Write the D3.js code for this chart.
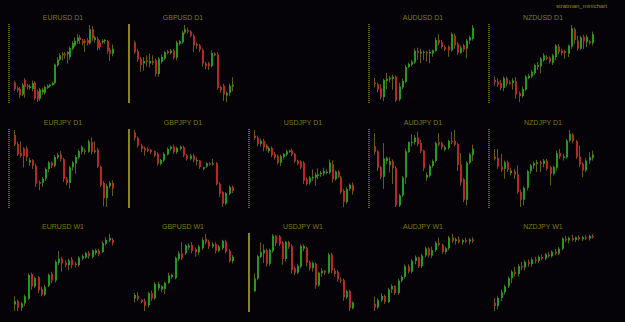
<!DOCTYPE html>
<html>
<head>
<meta charset="utf-8">
<script src="https://cdn.jsdelivr.net/npm/d3@7"></script>
<style>
  html, body { margin: 0; padding: 0; background: #050307; }
  svg { display: block; }
</style>
</head>
<body>
<script>
// candles are [open, high, low, close]
const eurusdD1 = [[82,87,55,62],[65,70,52,58],[62,68,35,42],[45,80,40,75],[90,95,35,68],[72,78,60,68],[65,76,60,70],[62,88,55,80],[82,86,28,33],[55,60,22,30],[32,65,25,60],[52,66,45,60],[50,72,45,68],[65,76,62,72],[70,78,68,75],[74,84,72,80],[80,140,76,137],[135,160,130,152],[152,172,148,165],[170,175,150,165],[170,175,155,165],[168,178,140,175],[160,192,152,187],[185,208,180,202],[195,220,190,210],[208,230,200,220],[220,228,200,212],[210,215,195,202],[210,215,175,205],[212,218,195,202],[202,258,198,245],[245,255,210,218],[212,225,205,220],[215,222,180,188],[205,212,182,190],[205,214,200,210],[208,215,200,212],[210,212,170,178],[182,188,148,170],[170,198,162,185]];
const gbpusdD1 = [[205,210,170,175],[178,185,145,152],[155,160,115,135],[140,160,118,148],[150,165,130,145],[140,170,128,148],[148,165,135,142],[150,155,100,108],[108,160,100,155],[145,168,140,160],[155,178,150,175],[178,182,168,172],[172,185,168,180],[180,185,152,158],[158,210,150,205],[200,212,195,208],[205,240,200,235],[235,258,230,245],[242,250,232,238],[238,242,220,225],[225,230,175,195],[200,205,185,195],[195,200,175,182],[182,186,130,140],[140,145,122,132],[140,145,120,132],[132,180,128,172],[170,175,162,165],[168,175,60,65],[68,72,50,58],[72,78,25,45],[42,55,22,50],[50,78,40,72],[70,98,55,75]];
const audusdD1 = [[80,95,65,75],[75,80,50,58],[62,75,28,35],[35,92,22,88],[85,110,60,92],[90,100,80,94],[92,105,58,98],[98,102,20,25],[28,80,22,68],[65,92,60,85],[82,135,78,128],[128,142,125,138],[135,150,130,145],[142,185,138,178],[178,188,150,172],[170,185,140,175],[172,180,150,175],[175,178,145,170],[170,182,140,175],[170,182,160,180],[178,220,175,212],[212,230,195,202],[205,212,185,190],[190,195,178,182],[190,195,160,180],[180,235,175,230],[225,232,185,195],[200,205,165,172],[172,195,168,188],[195,200,175,182],[185,215,155,210],[210,225,200,220],[215,258,210,250]];
const nzdusdD1 = [[90,100,72,82],[85,95,68,75],[80,90,58,65],[65,100,55,95],[95,100,70,78],[82,88,75,78],[80,95,60,88],[85,98,32,45],[50,55,22,40],[40,70,35,62],[60,105,55,100],[95,108,92,102],[100,120,95,115],[110,140,105,135],[130,145,120,135],[132,160,110,155],[150,172,145,165],[160,165,150,155],[158,162,140,145],[142,170,135,165],[160,200,150,195],[192,200,168,175],[180,185,165,172],[178,182,155,172],[170,198,160,195],[192,258,185,248],[245,250,200,212],[210,225,180,185],[185,225,182,220],[222,228,185,208],[205,228,190,222],[208,212,198,202],[202,238,195,230]];
const eurjpyD1 = [[260,275,225,230],[232,238,195,200],[205,240,190,195],[218,222,160,195],[218,225,180,192],[175,190,165,182],[182,185,155,165],[165,172,100,110],[115,120,90,110],[112,130,100,125],[125,160,118,155],[155,180,145,175],[175,178,158,165],[165,198,160,192],[190,205,185,198],[200,210,178,185],[185,190,115,125],[125,130,105,112],[112,165,95,160],[160,180,150,175],[172,198,140,192],[190,215,185,210],[208,228,200,222],[212,218,200,208],[208,245,205,240],[238,252,200,208],[208,240,202,212],[215,220,158,162],[162,165,100,105],[112,118,40,65],[65,108,38,102],[102,118,95,112],[112,120,72,95]];
const gbpjpyD1 = [[265,272,240,248],[248,252,220,225],[225,230,205,215],[218,222,195,210],[215,220,205,210],[212,215,200,205],[208,210,190,195],[200,205,165,170],[170,185,165,182],[180,205,175,200],[198,220,195,215],[215,225,210,222],[222,228,200,205],[205,222,200,218],[215,225,210,222],[220,225,190,195],[195,200,180,185],[185,200,180,195],[195,200,175,180],[178,190,165,182],[180,182,155,160],[155,162,150,160],[162,175,158,172],[172,175,165,168],[168,185,165,172],[172,175,105,108],[110,115,70,80],[85,88,40,50],[50,85,45,82],[80,105,75,100],[100,105,82,88]];
const usdjpyD1 = [[258,275,245,250],[252,258,225,232],[232,248,225,242],[242,248,210,222],[228,232,212,218],[210,225,205,220],[220,225,192,198],[202,208,185,190],[195,200,170,175],[175,200,165,195],[192,205,185,202],[200,215,195,210],[208,215,205,212],[212,218,195,200],[202,205,175,180],[182,185,168,172],[178,182,155,160],[175,180,110,120],[125,130,105,110],[115,135,108,130],[128,155,120,132],[130,145,105,138],[135,158,125,140],[140,150,132,145],[142,160,135,150],[144,155,140,148],[145,185,140,175],[170,182,115,125],[125,152,120,148],[148,152,128,132],[130,135,80,85],[90,95,40,55],[55,100,50,95],[95,112,90,108],[108,115,78,88]];
const audjpyD1 = [[225,265,200,208],[210,215,150,160],[162,165,125,132],[132,235,95,188],[180,195,170,190],[168,192,145,180],[180,185,110,158],[158,165,40,45],[45,80,40,75],[75,135,70,130],[130,218,110,210],[208,240,205,238],[235,262,225,238],[238,260,230,252],[252,270,225,232],[235,245,205,210],[212,215,150,158],[130,145,120,138],[135,170,130,165],[165,185,160,180],[180,240,175,235],[238,265,225,230],[235,240,215,222],[215,228,210,222],[220,245,215,242],[242,270,232,238],[242,275,225,230],[232,235,150,168],[170,205,105,115],[125,128,55,62],[62,180,45,175],[175,205,170,200],[198,230,180,218]];
const nzdjpyD1 = [[192,215,180,185],[188,215,155,162],[162,200,145,152],[155,180,125,175],[175,180,145,152],[142,158,135,150],[148,155,125,138],[138,165,80,85],[85,92,40,62],[62,102,45,98],[98,152,90,148],[148,170,140,165],[165,178,155,172],[170,182,145,175],[175,180,145,170],[170,185,160,180],[180,185,150,155],[160,165,105,140],[140,165,135,160],[158,210,150,202],[202,215,185,192],[188,200,180,192],[190,245,185,240],[240,272,235,260],[258,262,232,238],[238,242,185,190],[192,225,160,168],[170,175,130,150],[150,188,145,180],[180,205,170,190],[188,210,180,198]];
const eurusdW1 = [[65,90,45,75],[75,80,45,55],[55,72,45,68],[68,95,60,90],[82,160,78,155],[158,162,110,120],[120,150,115,145],[148,152,100,108],[112,120,90,95],[95,125,90,118],[122,160,118,155],[158,165,130,138],[138,200,132,195],[192,228,185,205],[205,210,165,190],[192,200,178,185],[185,205,170,200],[202,210,175,185],[190,195,178,185],[185,212,180,208],[205,218,200,212],[208,225,205,222],[222,228,205,212],[210,232,205,230],[222,235,215,230],[230,235,212,218],[225,258,222,252],[250,270,245,262],[260,280,255,268],[262,268,245,252]];
const gbpusdW1 = [[82,98,70,92],[90,100,75,80],[78,80,68,72],[75,82,45,60],[62,102,55,98],[98,105,75,82],[82,130,78,125],[112,132,105,125],[108,122,100,118],[110,132,95,128],[128,158,125,150],[145,155,140,152],[142,205,138,202],[198,222,192,215],[215,248,195,200],[215,242,210,238],[232,245,225,238],[240,248,215,222],[228,232,205,218],[218,240,210,235],[230,262,225,255],[258,272,242,248],[250,255,228,235],[235,248,230,242],[242,248,215,222],[222,240,218,235],[230,255,225,252],[250,255,215,220],[222,228,188,192],[192,210,185,205]];
const usdjpyW1 = [[98,150,95,135],[135,205,130,200],[198,240,195,212],[208,235,180,218],[218,222,170,178],[178,222,172,218],[215,265,210,260],[260,262,230,238],[258,262,230,235],[240,245,175,192],[192,245,185,242],[242,245,222,228],[230,235,150,160],[165,170,145,152],[152,178,148,172],[170,235,165,230],[222,235,215,230],[225,228,170,180],[182,188,158,165],[165,185,155,180],[178,182,105,115],[115,155,110,152],[150,165,140,158],[158,160,145,152],[152,210,148,205],[205,210,150,158],[158,165,140,148],[155,160,125,132],[132,138,122,128],[130,135,70,80],[80,102,75,98],[98,102,40,48],[48,68,45,65]];
const audjpyW1 = [[40,60,20,30],[30,55,25,50],[50,70,45,62],[62,66,40,45],[45,85,42,80],[80,95,70,90],[90,92,65,70],[70,110,65,105],[105,120,100,115],[115,150,110,145],[145,150,125,130],[130,165,125,160],[160,175,150,170],[170,172,140,145],[145,180,140,175],[175,200,170,195],[195,198,170,175],[175,200,168,190],[190,215,185,210],[210,225,200,205],[205,208,180,185],[185,200,178,195],[195,230,190,225],[225,235,210,215],[215,225,205,220],[220,228,208,212],[212,222,205,218],[218,225,210,214],[214,224,206,220],[220,226,210,215]];
const nzdjpyW1 = [[40,55,15,30],[30,60,20,55],[55,80,45,72],[72,95,65,90],[90,120,85,115],[115,140,100,135],[135,150,120,128],[128,158,120,152],[152,165,140,148],[148,170,140,165],[165,172,150,158],[158,178,150,172],[172,180,160,168],[168,185,162,180],[180,188,170,175],[175,192,170,188],[188,195,178,182],[182,200,178,196],[196,205,185,190],[190,210,186,205],[205,240,200,236],[236,245,225,230],[230,242,222,238],[238,248,228,232],[232,242,225,240],[240,246,230,234],[234,244,228,240],[240,246,232,236],[236,248,230,244],[244,250,236,240]];

// grid slots, row by row (null = empty slot)
const titles = [
  'EURUSD D1', 'GBPUSD D1', null, 'AUDUSD D1', 'NZDUSD D1',
  'EURJPY D1', 'GBPJPY D1', 'USDJPY D1', 'AUDJPY D1', 'NZDJPY D1',
  'EURUSD W1', 'GBPUSD W1', 'USDJPY W1', 'AUDJPY W1', 'NZDJPY W1'
];
const series = [
  eurusdD1, gbpusdD1, null, audusdD1, nzdusdD1,
  eurjpyD1, gbpjpyD1, usdjpyD1, audjpyD1, nzdjpyD1,
  eurusdW1, gbpusdW1, usdjpyW1, audjpyW1, nzdjpyW1
];
// left marker state per slot
const markers = [
  'dash', 'solid', null, 'dash', 'dash',
  'dash', 'solid', 'dash', 'dash', 'dash',
  null, null, 'solid', null, null
];

const W = 625, H = 322;
const colW = 120;
const rowTop = [25, 130, 234];
const rowBottom = [102, 207, 311];
const titleY = [20, 125, 229];

const UP = '#1d9c1d', DOWN = '#b82626', WICK = '#625c10';

const svg = d3.select('body').append('svg')
  .attr('width', W)
  .attr('height', H);

svg.append('rect')
  .attr('width', W)
  .attr('height', H)
  .attr('fill', '#050307');

svg.append('text')
  .text('stratman_minichart')
  .attr('x', 607)
  .attr('y', 8)
  .attr('text-anchor', 'end')
  .style('font-family', 'Liberation Sans, Arial, sans-serif')
  .style('font-size', '6px')
  .attr('fill', '#8f8f14');

titles.forEach((title, i) => {
  if (!title) return;
  const col = i % 5, row = Math.floor(i / 5);
  const x0 = col * colW;
  const data = series[i];
  const g = svg.append('g').attr('class', 'panel');

  g.append('text')
    .text(title)
    .attr('x', x0 + 63)
    .attr('y', titleY[row])
    .attr('text-anchor', 'middle')
    .style('font-family', 'Liberation Sans, Arial, sans-serif')
    .style('font-size', '7px')
    .attr('fill', '#7c7a12');

  if (markers[i]) {
    g.append('line')
      .attr('x1', x0 + 9).attr('x2', x0 + 9)
      .attr('y1', rowTop[row] - 1).attr('y2', rowBottom[row] + 1)
      .attr('stroke', markers[i] === 'solid' ? '#8a8612' : '#66620e')
      .attr('stroke-width', 2)
      .attr('stroke-dasharray', markers[i] === 'solid' ? null : '1,1');
  }

  const x = d3.scaleLinear()
    .domain([0, data.length - 1])
    .range([x0 + 15, x0 + 113]);
  const y = d3.scaleLinear()
    .domain([d3.min(data, d => d[2]), d3.max(data, d => d[1])])
    .range([rowBottom[row], rowTop[row]]);

  const c = g.selectAll('.candle')
    .data(data)
    .enter()
    .append('g')
    .attr('class', 'candle');

  c.append('rect')
    .attr('x', (d, j) => Math.round(x(j)) - 1)
    .attr('y', d => y(d[1]))
    .attr('width', 1)
    .attr('height', d => Math.max(1, y(d[2]) - y(d[1])))
    .attr('fill', WICK);

  c.append('rect')
    .attr('x', (d, j) => Math.round(x(j)) - 1)
    .attr('y', d => y(Math.max(d[0], d[3])))
    .attr('width', 2)
    .attr('height', d => Math.max(1, Math.abs(y(d[0]) - y(d[3]))))
    .attr('fill', d => d[3] >= d[0] ? UP : DOWN);
});
</script>
</body>
</html>
